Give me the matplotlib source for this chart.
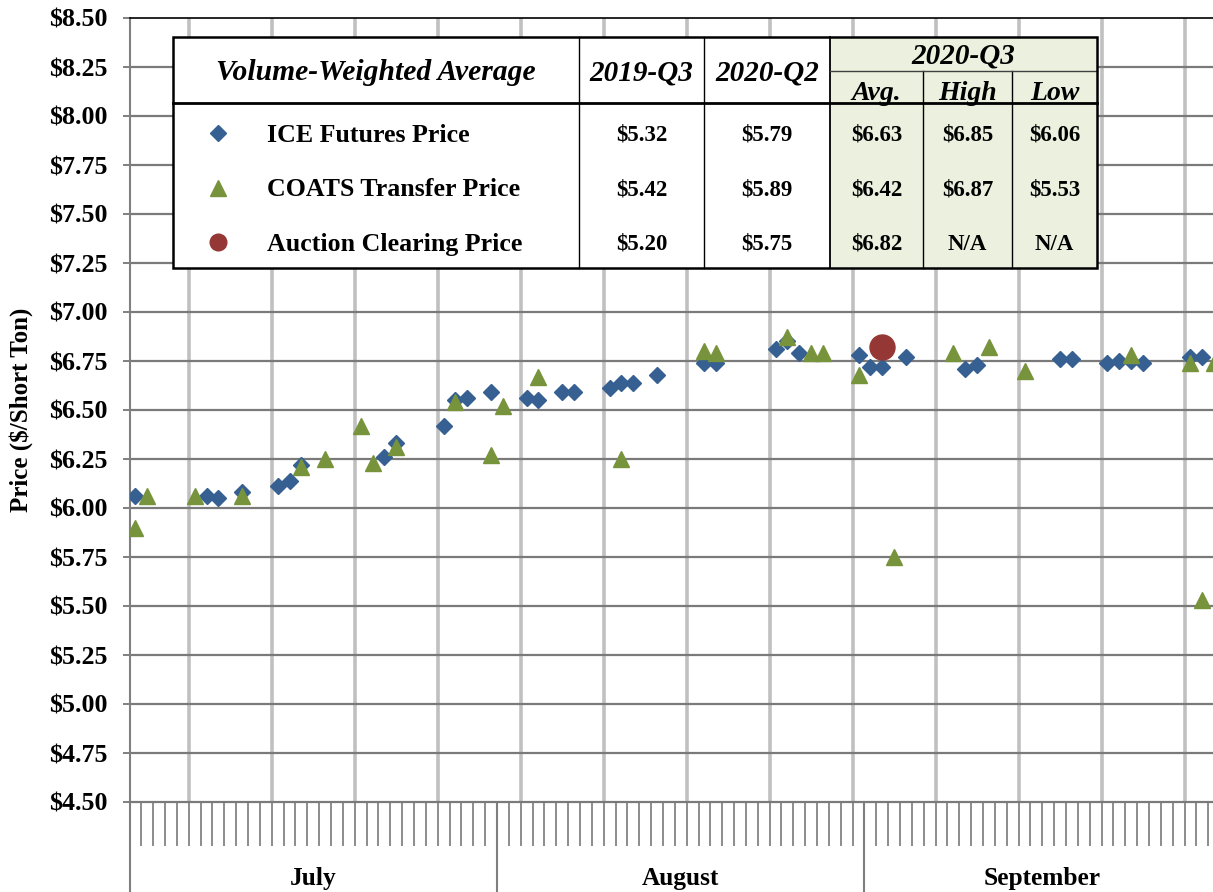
import numpy as np
import pandas as pd
import matplotlib
matplotlib.use("Agg")
import matplotlib.pyplot as plt
from matplotlib.ticker import FixedLocator, FuncFormatter

plt.rcParams['font.family'] = ['Liberation Serif', 'DejaVu Serif']
plt.rcParams['font.weight'] = 'bold'

# ---- data ----
ice_dates = ["07-01", "07-07", "07-08", "07-10", "07-13", "07-14", "07-15", "07-22",
             "07-23", "07-27", "07-28", "07-29", "07-31", "08-03", "08-04", "08-06",
             "08-07", "08-10", "08-11", "08-12", "08-14", "08-18", "08-19", "08-24",
             "08-25", "08-26", "08-31", "09-01", "09-02", "09-04", "09-09", "09-10",
             "09-17", "09-18", "09-21", "09-22", "09-23", "09-24", "09-28", "09-29"]
ice_prices = [6.06, 6.06, 6.05, 6.08, 6.11, 6.14, 6.22, 6.26,
              6.33, 6.42, 6.55, 6.56, 6.59, 6.56, 6.55, 6.59,
              6.59, 6.61, 6.64, 6.64, 6.68, 6.74, 6.74, 6.81,
              6.85, 6.79, 6.78, 6.72, 6.72, 6.77, 6.71, 6.73,
              6.76, 6.76, 6.74, 6.75, 6.75, 6.74, 6.77, 6.77]

coats_dates = ["07-01", "07-02", "07-06", "07-10", "07-15", "07-17", "07-20", "07-21",
               "07-23", "07-28", "07-31", "08-01", "08-04", "08-11", "08-18", "08-19",
               "08-25", "08-27", "08-28", "08-31", "09-03", "09-08", "09-11", "09-14",
               "09-23", "09-28", "09-29", "09-30"]
coats_prices = [5.90, 6.06, 6.06, 6.06, 6.21, 6.25, 6.42, 6.23,
                6.31, 6.54, 6.27, 6.52, 6.67, 6.25, 6.80, 6.79,
                6.87, 6.79, 6.79, 6.68, 5.75, 6.79, 6.82, 6.70,
                6.78, 6.74, 5.53, 6.74]

auction_dates = ["09-02"]
auction_prices = [6.82]

months = ["July", "August", "September"]
month_days = [31, 31, 30]

series_names = ["ICE Futures Price", "COATS Transfer Price", "Auction Clearing Price"]
col_2019q3 = ["$5.32", "$5.42", "$5.20"]
col_2020q2 = ["$5.79", "$5.89", "$5.75"]
col_avg = ["$6.63", "$6.42", "$6.82"]
col_high = ["$6.85", "$6.87", "N/A"]
col_low = ["$6.06", "$5.53", "N/A"]

BLUE = "#376092"
GREEN = "#77933c"
RED = "#953735"
SHADE = "#ebf1de"

start = pd.Timestamp("2020-07-01")


def day_pos(dates):
    # centre of each day slot, July 1 = 0.5
    return np.array([(pd.Timestamp("2020-" + d) - start).days + 0.5 for d in dates])


W, H = 1213, 892
fig = plt.figure(figsize=(W / 100, H / 100), dpi=100)
ax = fig.add_axes([129.5 / W, 1 - 802 / H, 1 - 129.5 / W, (802 - 18) / H])

ax.set_xlim(0, 91.4)
ax.set_ylim(4.5, 8.5)

# weekly vertical lines (Mondays)
for wk in range(5, 92, 7):
    ax.axvline(wk, color="#c0c0c0", lw=2.6, zorder=1)

yt = np.arange(4.5, 8.51, 0.25)
ax.yaxis.set_major_locator(FixedLocator(yt))
ax.yaxis.set_major_formatter(FuncFormatter(lambda v, p: f"${v:.2f}"))
for v in yt[1:-1]:
    ax.axhline(v, color="#7a7a7a", lw=1.6, zorder=2)

ax.plot(day_pos(ice_dates), ice_prices, ls="none", marker="D", ms=8.4,
        color=BLUE, mec=BLUE, zorder=4)
ax.plot(day_pos(coats_dates), coats_prices, ls="none", marker="^", ms=11.5,
        color=GREEN, mec=GREEN, zorder=5)
ax.plot(day_pos(auction_dates), auction_prices, ls="none", marker="o", ms=18,
        color=RED, mec=RED, zorder=6)

# x axis: day ticks and month separators
bounds = np.concatenate([[0], np.cumsum(month_days)])
ax.set_xticks(bounds[:-1])
ax.set_xticklabels([])
ax.set_xticks(np.arange(1, 92), minor=True)
ax.tick_params(axis="x", which="major", length=65, width=1.5, color="#7f7f7f", direction="out")
ax.tick_params(axis="x", which="minor", length=32, width=1.4, color="#8c8c8c", direction="out")
ax.tick_params(axis="y", length=5, width=1.4, color="#808080", pad=11, labelsize=18.7)
for lab in ax.get_yticklabels():
    lab.set_fontweight("bold")

ax.spines["right"].set_visible(False)
ax.spines["left"].set_color("#808080")
ax.spines["left"].set_linewidth(1.5)
ax.spines["bottom"].set_color("#7a7a7a")
ax.spines["bottom"].set_linewidth(1.6)
ax.spines["top"].set_color("black")
ax.spines["top"].set_linewidth(1.2)

label_y = -(879 - 802) / (802 - 18)
for name, b0, b1 in zip(months, bounds[:-1], bounds[1:]):
    ax.text((b0 + b1) / 2, label_y, name, transform=ax.get_xaxis_transform(),
            ha="center", va="center", fontsize=18.3, fontweight="bold", clip_on=False)

fig.text(21 / W, 1 - 410 / H, "Price ($/Short Ton)", rotation=90, ha="center",
         va="center", fontsize=18, fontweight="bold")

# ---- summary table overlay in pixel coordinates ----
tab = fig.add_axes([0, 0, 1, 1], facecolor="none")
tab.set_xlim(0, W)
tab.set_ylim(H, 0)
tab.axis("off")

cols = [173, 579, 704, 830, 923, 1012, 1097]
top, hdr, sub, bot = 37, 102.5, 71, 267.5
rows_y = [135, 190, 244]

tab.add_patch(plt.Rectangle((cols[0], top), cols[-1] - cols[0], bot - top,
                            facecolor="white", edgecolor="none", zorder=7))
tab.add_patch(plt.Rectangle((cols[3], top), cols[-1] - cols[3], bot - top,
                            facecolor=SHADE, edgecolor="none", zorder=7))
for c in cols[1:3]:
    tab.plot([c, c], [top, bot], color="black", lw=1, zorder=8)
tab.plot([cols[3], cols[3]], [top, bot], color="black", lw=1.3, zorder=8)
for c in cols[4:6]:
    tab.plot([c, c], [sub, bot], color="black", lw=1, zorder=8)
tab.plot([cols[3], cols[-1]], [sub, sub], color="#404040", lw=1, zorder=8)
tab.plot([cols[0], cols[-1]], [hdr, hdr], color="black", lw=2, zorder=9)
tab.add_patch(plt.Rectangle((cols[0], top), cols[-1] - cols[0], bot - top,
                            facecolor="none", edgecolor="black", lw=1.8, zorder=9))


def mid(a, b):
    return (a + b) / 2


hkw = dict(ha="center", va="center", fontweight="bold", style="italic", zorder=8.5)
tab.text(mid(cols[0], cols[1]), 73, "Volume-Weighted Average", fontsize=21.3, **hkw)
tab.text(mid(cols[1], cols[2]), 73, "2019-Q3", fontsize=21, **hkw)
tab.text(mid(cols[2], cols[3]), 73, "2020-Q2", fontsize=21, **hkw)
tab.text(mid(cols[3], cols[6]), 56, "2020-Q3", fontsize=21, **hkw)
tab.text(mid(cols[3], cols[4]), 93, "Avg.", fontsize=20, **hkw)
tab.text(mid(cols[4], cols[5]), 93, "High", fontsize=20, **hkw)
tab.text(mid(cols[5], cols[6]), 93, "Low", fontsize=20, **hkw)

markers = [("D", 8.0, BLUE), ("^", 11, GREEN), ("o", 12, RED)]
table_cols = [col_2019q3, col_2020q2, col_avg, col_high, col_low]
for r, (name, y) in enumerate(zip(series_names, rows_y)):
    m, ms, c = markers[r]
    tab.plot([218], [y - 2], marker=m, ms=ms, color=c, mec=c, ls="none", zorder=10)
    tab.text(267, y, name, ha="left", va="center", fontsize=18.6,
             fontweight="bold", zorder=10)
    for k, colvals in enumerate(table_cols):
        tab.text(mid(cols[k + 1], cols[k + 2]), y, colvals[r], ha="center",
                 va="center", fontsize=16.5, fontweight="bold", zorder=10)

fig.savefig("out.png", dpi=100)
